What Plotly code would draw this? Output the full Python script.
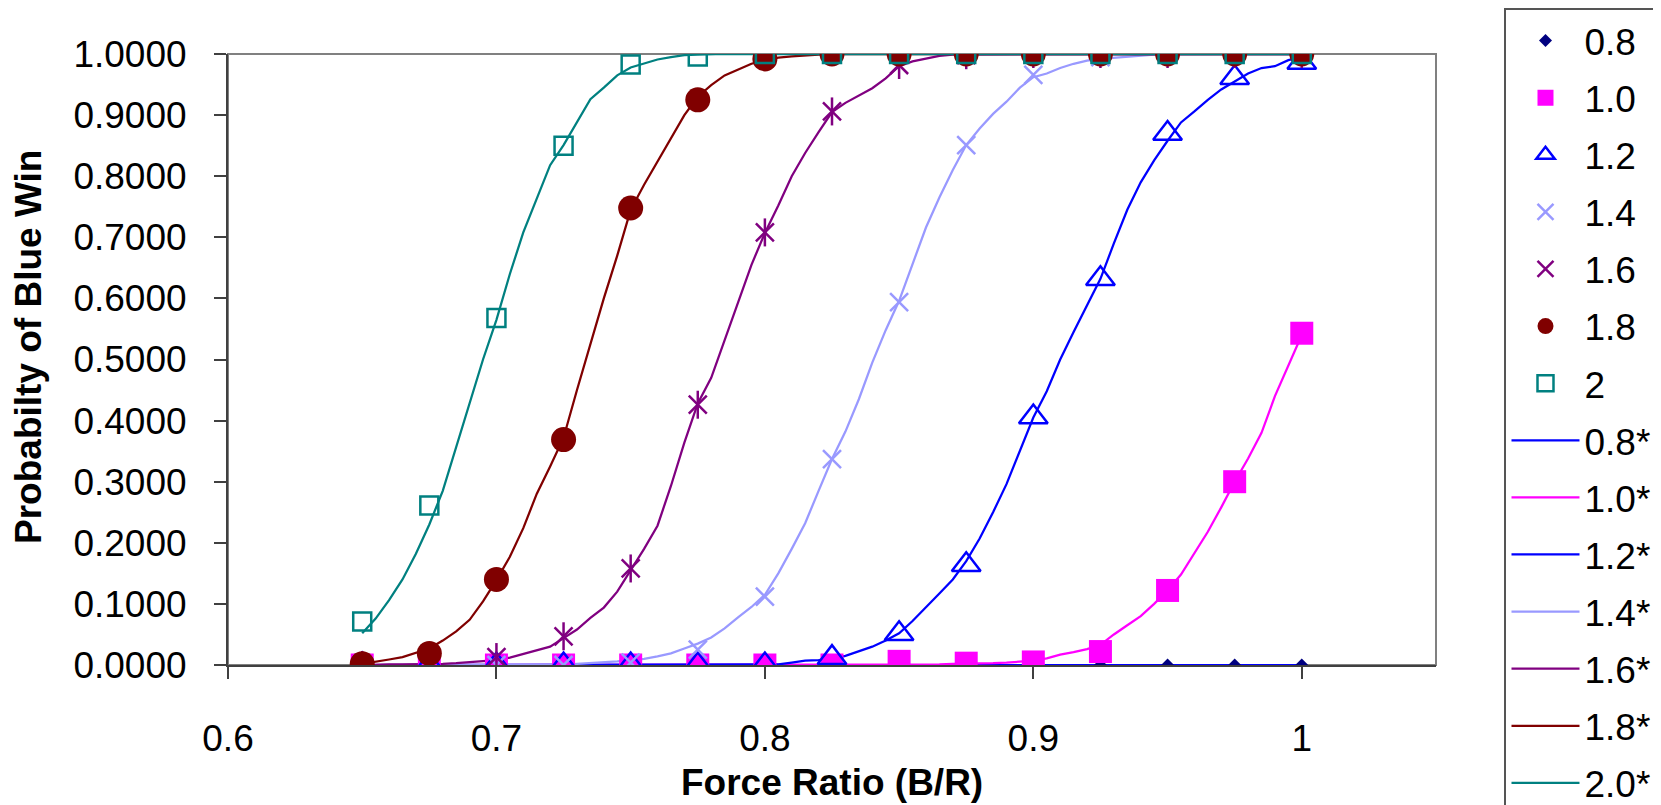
import plotly.graph_objects as go

# ---------------- data ----------------
# marker series: x = 0.650 ... 1.000 step 0.025
x_pts = [0.65, 0.675, 0.7, 0.725, 0.75, 0.775, 0.8, 0.825, 0.85, 0.875, 0.9, 0.925, 0.95, 0.975, 1.0]
p08 = [0, 0, 0, 0, 0, 0, 0, 0, 0, 0, 0, 0, 0, 0, 0]
p10 = [0, 0, 0, 0, 0, 0, 0, 0.0, 0.006, 0.003, 0.005, 0.022, 0.122, 0.300, 0.543]
p12 = [0, 0, 0, 0, 0, 0, 0, 0.012, 0.051, 0.164, 0.406, 0.632, 0.870, 0.961, 0.986]
p14 = [0, 0, 0, 0, 0.004, 0.025, 0.112, 0.337, 0.594, 0.851, 0.966, 0.995, 1, 1, 1]
p16 = [0, 0.002, 0.013, 0.047, 0.158, 0.426, 0.708, 0.906, 0.982, 0.998, 1, 1, 1, 1, 1]
p18 = [0.002, 0.019, 0.140, 0.369, 0.748, 0.925, 0.992, 1, 1, 1, 1, 1, 1, 1, 1]
p20 = [0.071, 0.261, 0.568, 0.850, 0.983, 0.996, 1.0, 1, 1, 1, 1, 1, 1, 1, 1]

# line series ("*"): x = 0.650 ... 1.000 step 0.005
x_line = [round(0.65 + 0.005 * i, 3) for i in range(71)]
l08 = [0] * 71
l10 = [0] * 43 + [0.001, 0.002, 0.002, 0.003, 0.003, 0.004, 0.005, 0.007, 0.011, 0.017,
                  0.021, 0.026, 0.033, 0.050, 0.065, 0.080, 0.100, 0.122, 0.148, 0.182,
                  0.218, 0.258, 0.300, 0.338, 0.380, 0.440, 0.490, 0.540]
l12 = [0] * 31 + [0.001, 0.004, 0.007, 0.008, 0.010, 0.015, 0.022, 0.030, 0.040, 0.052,
                  0.072, 0.094, 0.117, 0.140, 0.170, 0.207, 0.250, 0.296, 0.350, 0.405,
                  0.448, 0.500, 0.545, 0.588, 0.632, 0.690, 0.745, 0.790, 0.826, 0.858,
                  0.888, 0.906, 0.925, 0.942, 0.955, 0.968, 0.977, 0.980, 0.990, 0.995]
l14 = [0] * 13 + [0.001, 0.001,
                  0.001, 0.002, 0.003, 0.004, 0.006, 0.008, 0.010, 0.014, 0.019, 0.027,
                  0.035, 0.045, 0.060, 0.078, 0.095, 0.115, 0.150, 0.190, 0.232, 0.285,
                  0.337, 0.382, 0.435, 0.495, 0.548, 0.596, 0.655, 0.716, 0.765, 0.810,
                  0.851, 0.878, 0.902, 0.922, 0.945, 0.962, 0.968, 0.977, 0.984, 0.989,
                  0.992, 0.994, 0.996, 0.998, 0.999] + [1.0] * 11
l16 = [0.000, 0.001, 0.001, 0.001, 0.001, 0.001, 0.002, 0.003, 0.005, 0.006,
       0.008, 0.012, 0.018, 0.024, 0.030, 0.044, 0.058, 0.077, 0.094, 0.120,
       0.155, 0.190, 0.228, 0.293, 0.364, 0.428, 0.470, 0.532, 0.595, 0.655,
       0.707, 0.752, 0.800, 0.838, 0.872, 0.905, 0.920, 0.932, 0.944, 0.960,
       0.980, 0.988, 0.993, 0.997, 0.999, 0.999] + [1.0] * 25
l18 = [0.002, 0.005, 0.009, 0.013, 0.020, 0.027, 0.040, 0.055, 0.074, 0.104,
       0.139, 0.177, 0.224, 0.280, 0.325, 0.372, 0.450, 0.525, 0.600, 0.670,
       0.745, 0.786, 0.824, 0.860, 0.900, 0.930, 0.949, 0.965, 0.975, 0.984,
       0.990, 0.994, 0.996, 0.998, 0.999] + [1.0] * 36
l20 = [0.052, 0.076, 0.106, 0.140, 0.182, 0.230, 0.285, 0.358, 0.429, 0.500,
       0.565, 0.640, 0.708, 0.764, 0.818, 0.851, 0.889, 0.926, 0.945, 0.965,
       0.978, 0.985, 0.991, 0.995, 0.998, 0.999] + [1.0] * 45

x_ticks = [0.6, 0.7, 0.8, 0.9, 1.0]
x_ticktext = ["0.6", "0.7", "0.8", "0.9", "1"]
y_ticks = [0.0, 0.1, 0.2, 0.3, 0.4, 0.5, 0.6, 0.7, 0.8, 0.9, 1.0]

FONT = "Liberation Sans, Arial, sans-serif"
FS = 37

fig = go.Figure()

# lines drawn first (markers are on top in the reference)
line_specs = [
    ("0.8*", l08, "#0000FF"),
    ("1.0*", l10, "#FF00FF"),
    ("1.2*", l12, "#0000FF"),
    ("1.4*", l14, "#9999FF"),
    ("1.6*", l16, "#800080"),
    ("1.8*", l18, "#800000"),
    ("2.0*", l20, "#008080"),
]
for i, (name, ys, col) in enumerate(line_specs):
    fig.add_trace(go.Scatter(
        x=x_line, y=ys, mode="lines", name=name,
        line=dict(color=col, width=2.25),
        legendgroup=name, legendrank=100 + i,
    ))

marker_specs = [
    ("0.8", p08, dict(symbol="diamond", size=10, color="#000080")),
    ("1.0", p10, dict(symbol="square", size=23, color="#FF00FF")),
    ("1.2", p12, dict(symbol="triangle-up-open", size=25, color="#0000FF",
                      line=dict(color="#0000FF", width=2.5))),
    ("1.4", p14, dict(symbol="x-thin", size=18, color="#9999FF",
                      line=dict(color="#9999FF", width=2.5))),
    ("1.6", p16, dict(symbol="x-thin", size=18, color="#800080",
                      line=dict(color="#800080", width=2.5))),
    ("1.8", p18, dict(symbol="circle", size=25, color="#800000")),
    ("2", p20, dict(symbol="square-open", size=18, color="#008080",
                    line=dict(color="#008080", width=2.5))),
]
for i, (name, ys, mk) in enumerate(marker_specs):
    fig.add_trace(go.Scatter(
        x=x_pts, y=ys, mode="markers", name=name, marker=mk,
        legendgroup=name, legendrank=i + 1,
    ))
    if name == "1.6":
        # vertical stroke completing the asterisk marker
        fig.add_trace(go.Scatter(
            x=x_pts, y=ys, mode="markers", name=name, showlegend=False,
            marker=dict(symbol="line-ns", size=20, color="#800080",
                        line=dict(color="#800080", width=2.5)),
            legendgroup=name,
        ))

fig.update_layout(
    width=1661, height=805,
    margin=dict(l=220, r=229, t=42, b=148),
    paper_bgcolor="white", plot_bgcolor="white",
    font=dict(family=FONT, size=FS, color="black"),
    showlegend=True,
    legend=dict(
        x=1.0567, y=1.0553, xanchor="left", yanchor="top",
        bordercolor="#555555", borderwidth=2, bgcolor="white",
        font=dict(family=FONT, size=FS, color="black"),
        itemwidth=68, tracegroupgap=6, traceorder="grouped",
        maxheight=1200,
    ),
    xaxis=dict(
        range=[0.6, 1.05], tickvals=x_ticks, ticktext=x_ticktext,
        showgrid=False, zeroline=False,
        showline=True, linecolor="#404040", linewidth=2,
        ticks="outside", ticklen=12, tickwidth=2, tickcolor="#404040",
        ticklabelstandoff=28,
        tickfont=dict(family=FONT, size=FS, color="black"),
    ),
    yaxis=dict(
        range=[0, 1], tickvals=y_ticks, tickformat=".4f",
        showgrid=False, zeroline=False,
        showline=True, linecolor="#404040", linewidth=2,
        ticks="outside", ticklen=12, tickwidth=2, tickcolor="#404040",
        ticklabelstandoff=20,
        tickfont=dict(family=FONT, size=FS, color="black"),
    ),
    shapes=[dict(type="rect", xref="paper", yref="paper", x0=0, y0=0, x1=1, y1=1,
                 line=dict(color="#808080", width=2), layer="below")],
    annotations=[
        dict(text="<b>Force Ratio (B/R)</b>", xref="paper", yref="paper",
             x=0.5, y=-0.193, xanchor="center", yanchor="middle", showarrow=False,
             font=dict(family=FONT, size=FS, color="black")),
        dict(text="<b>Probabilty of Blue Win</b>", xref="paper", yref="paper",
             x=-0.165, y=0.52, xanchor="center", yanchor="middle", showarrow=False,
             textangle=-90, font=dict(family=FONT, size=FS, color="black")),
    ],
)

fig.write_html("out.html")
